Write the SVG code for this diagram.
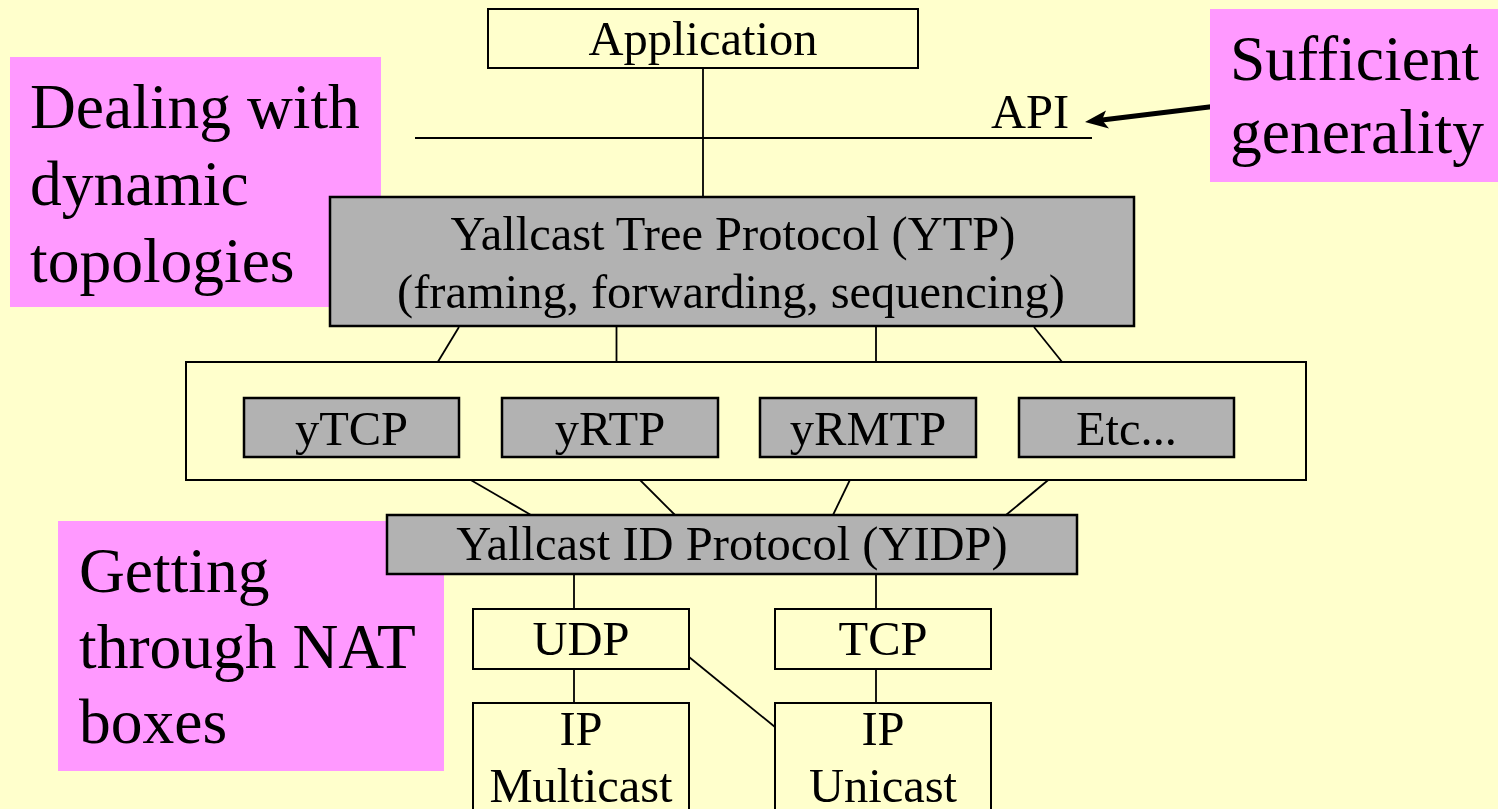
<svg xmlns="http://www.w3.org/2000/svg" width="1498" height="809" viewBox="0 0 1498 809">
  <style>
    .box { fill: #FFFFCC; stroke: #000; stroke-width: 2; }
    .gray { fill: #B2B2B2; stroke: #000; stroke-width: 2.5; }
    .note { fill: #FF99FF; }
    .t { font-family: 'Liberation Serif', Tinos, 'Times New Roman', Times, serif; font-size: 48.5px; fill: #000; text-anchor: middle; }
    .n { font-family: 'Liberation Serif', Tinos, 'Times New Roman', Times, serif; font-size: 63.5px; fill: #000; }
    .wire { stroke: #000; stroke-width: 1.8; fill: none; }
  </style>

  <rect width="1498" height="809" fill="#FFFFCC"/>

  <!-- connectors -->
  <g id="connectors">
    <line class="wire" x1="703" y1="68" x2="703" y2="197"/>
    <line class="wire" x1="415" y1="138" x2="1092" y2="138"/>
    <line class="wire" x1="459" y1="327" x2="416" y2="398"/>
    <line class="wire" x1="616.5" y1="327" x2="616.5" y2="398"/>
    <line class="wire" x1="876" y1="327" x2="876" y2="398"/>
    <line class="wire" x1="1034" y1="327" x2="1091" y2="398"/>
    <line class="wire" x1="431" y1="457" x2="531" y2="515"/>
    <line class="wire" x1="617" y1="457" x2="675" y2="515"/>
    <line class="wire" x1="861" y1="457" x2="833" y2="515"/>
    <line class="wire" x1="1076" y1="457" x2="1006" y2="515"/>
    <line class="wire" x1="574" y1="574" x2="574" y2="609"/>
    <line class="wire" x1="876" y1="574" x2="876" y2="609"/>
    <line class="wire" x1="574" y1="669" x2="574" y2="703"/>
    <line class="wire" x1="876" y1="669" x2="876" y2="703"/>
    <line class="wire" x1="689" y1="657" x2="775" y2="727"/>
    <!-- pointer from the generality note to the API line -->
    <line x1="1242" y1="103" x2="1100" y2="120.2" stroke="#000" stroke-width="5"/>
    <path d="M1085,122 L1106,110.5 L1102,120 L1109,128.5 Z" fill="#000"/>
  </g>

  <!-- annotation notes -->
  <g id="note-dynamic">
    <rect class="note" x="10" y="57" width="371" height="250"/>
    <text class="n" x="30" y="128">Dealing with</text>
    <text class="n" x="30" y="205">dynamic</text>
    <text class="n" x="30" y="282">topologies</text>
  </g>
  <g id="note-generality">
    <rect class="note" x="1210" y="9" width="288" height="173"/>
    <text class="n" x="1230" y="80">Sufficient</text>
    <text class="n" x="1230" y="153">generality</text>
  </g>
  <g id="note-nat">
    <rect class="note" x="58" y="521" width="386" height="250"/>
    <text class="n" x="79" y="592">Getting</text>
    <text class="n" x="79" y="668">through NAT</text>
    <text class="n" x="79" y="743">boxes</text>
  </g>

  <!-- protocol stack -->
  <g id="application">
    <rect class="box" x="488" y="9" width="430" height="59"/>
    <text class="t" x="703" y="55">Application</text>
  </g>
  <g id="api">
    <text class="t" x="1030" y="128">API</text>
  </g>
  <g id="ytp">
    <rect class="gray" x="330" y="197" width="804" height="129"/>
    <text class="t" x="733" y="250">Yallcast Tree Protocol (YTP)</text>
    <text class="t" x="731" y="308">(framing, forwarding, sequencing)</text>
  </g>
  <g id="transports">
    <rect class="box" x="186" y="362" width="1120" height="118"/>
  </g>
  <g id="ytcp">
    <rect class="gray" x="244" y="398" width="215" height="59"/>
    <text class="t" x="351.5" y="445">yTCP</text>
  </g>
  <g id="yrtp">
    <rect class="gray" x="502" y="398" width="216" height="59"/>
    <text class="t" x="610" y="445">yRTP</text>
  </g>
  <g id="yrmtp">
    <rect class="gray" x="760" y="398" width="216" height="59"/>
    <text class="t" x="868" y="445">yRMTP</text>
  </g>
  <g id="etc">
    <rect class="gray" x="1019" y="398" width="215" height="59"/>
    <text class="t" x="1126.5" y="445">Etc...</text>
  </g>
  <g id="yidp">
    <rect class="gray" x="387" y="515" width="690" height="59"/>
    <text class="t" x="732" y="560">Yallcast ID Protocol (YIDP)</text>
  </g>
  <g id="udp">
    <rect class="box" x="473" y="609" width="216" height="60"/>
    <text class="t" x="581" y="655">UDP</text>
  </g>
  <g id="tcp">
    <rect class="box" x="775" y="609" width="216" height="60"/>
    <text class="t" x="883" y="655">TCP</text>
  </g>
  <g id="ip-multicast">
    <rect class="box" x="473" y="703" width="216" height="120"/>
    <text class="t" x="581" y="745">IP</text>
    <text class="t" x="581" y="802">Multicast</text>
  </g>
  <g id="ip-unicast">
    <rect class="box" x="775" y="703" width="216" height="120"/>
    <text class="t" x="883" y="745">IP</text>
    <text class="t" x="883" y="802">Unicast</text>
  </g>
</svg>
